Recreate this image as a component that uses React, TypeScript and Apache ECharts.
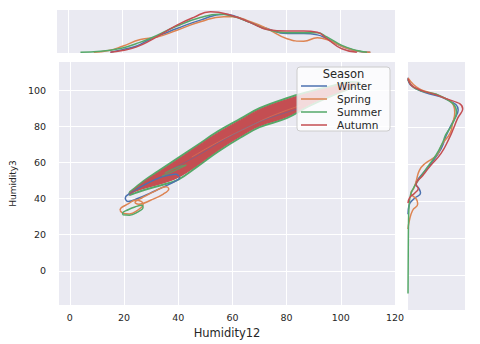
import React, { useEffect, useRef } from 'react';
import * as echarts from 'echarts';

const seasons = ['Winter', 'Spring', 'Summer', 'Autumn'];
const xTicks = [0, 20, 40, 60, 80, 100, 120];
const yTicks = [0, 20, 40, 60, 80, 100];

// Top marginal KDE of Humidity12: [Humidity12, density]
const winterTop = [[15.6, 0], [20, 0.06], [25, 0.14], [30, 0.3], [35, 0.43], [40, 0.56], [48.6, 0.76], [57.2, 0.9], [60.5, 0.87], [67, 0.7], [73, 0.56], [80.4, 0.44], [86.5, 0.44], [91.5, 0.41], [95, 0.32], [100.5, 0.14], [106, 0.03], [110.9, 0]];
const springTop = [[9.5, 0], [15, 0.04], [20, 0.14], [26.6, 0.3], [32.7, 0.36], [40, 0.52], [48.6, 0.72], [57.2, 0.84], [60.5, 0.84], [67, 0.72], [73, 0.56], [80.4, 0.32], [86.5, 0.26], [91.5, 0.34], [95, 0.3], [100.5, 0.14], [106, 0.03], [111, 0]];
const summerTop = [[4.6, 0], [12, 0.02], [20, 0.1], [25, 0.2], [30.3, 0.33], [40, 0.62], [48.6, 0.82], [55.5, 0.9], [60.5, 0.85], [67, 0.7], [73, 0.54], [80.4, 0.46], [86.5, 0.46], [91.5, 0.46], [95, 0.36], [100.5, 0.16], [106, 0.04], [109.7, 0]];
const autumnTop = [[15.6, 0], [20, 0.04], [25, 0.12], [30.3, 0.28], [40, 0.64], [46, 0.82], [52.3, 0.96], [60.5, 0.86], [67, 0.7], [73, 0.54], [80.4, 0.5], [86.5, 0.5], [91.5, 0.47], [95, 0.32], [100.5, 0.08], [106, 0]];

// Right marginal KDE of Humidity3: [density, Humidity3]
const winterRight = [[0, 107], [0.05, 103], [0.3, 99], [0.67, 95.5], [0.88, 89.5], [0.8, 84], [0.72, 79], [0.67, 75.7], [0.58, 68.5], [0.38, 59.5], [0.23, 54], [0.14, 49.5], [0.2, 46.5], [0.22, 44.5], [0.11, 41.5], [0.02, 38], [0, 33]];
const springRight = [[0, 107], [0.2, 101], [0.55, 97.3], [0.8, 92], [0.82, 88], [0.78, 82], [0.74, 77], [0.6, 71], [0.5, 65], [0.3, 60.5], [0.2, 56.8], [0.14, 50.5], [0.1, 47], [0.05, 44.5], [0.15, 41], [0.17, 38.5], [0.08, 35], [0.02, 29], [0, 25]];
const summerRight = [[0, 106], [0.14, 101], [0.61, 96.5], [0.85, 88.3], [0.76, 81], [0.66, 76], [0.61, 72], [0.49, 65], [0.32, 57.7], [0.2, 52.3], [0.09, 46.8], [0.03, 41.4], [0.01, 30], [0.005, 15], [0, -10]];
const autumnRight = [[0, 106.5], [0.11, 101.8], [0.61, 96.4], [0.96, 90.1], [0.87, 85], [0.8, 79.6], [0.72, 74], [0.58, 66], [0.4, 59.5], [0.26, 54], [0.14, 49], [0.18, 47], [0.12, 44.5], [0.03, 42], [0, 39]];

// Joint KDE contour loops: [Humidity12, Humidity3]
const summerOuter = [[22, 43.5], [25, 47], [28, 50.5], [32.5, 55], [40, 62.5], [47, 69.5], [54.5, 77], [63, 84.2], [70, 90], [80, 95.5], [88, 99], [96, 102], [104, 104.5], [107, 104], [104, 101.5], [96, 96.5], [88, 91], [80, 84.5], [70, 79.5], [63, 73.8], [54.5, 65.8], [47, 57.7], [40, 50.5], [34, 47.5], [28, 45], [24, 43], [22, 42], [22, 43.5]];
const autumnBand = [[22, 43], [25, 46.5], [28, 50], [32.5, 54.3], [40, 61.7], [47, 68.8], [54.5, 76.2], [63, 83.4], [70, 89.2], [80, 94.7], [88, 98.3], [96, 101.3], [104, 103.8], [106, 103.5], [103, 101], [96, 97.2], [88, 91.8], [80, 85.3], [70, 80.3], [63, 74.6], [54.5, 66.6], [47, 58.5], [40, 51.8], [34, 48.5], [28, 46], [24, 44], [22, 42.3]];
const winterLoop = [[20.5, 39.5], [21.5, 38.3], [25, 40], [30, 43.3], [35, 46.7], [39, 49.6], [40.5, 51.5], [39, 53.5], [34, 52], [28, 48], [23, 43.5], [20.5, 40.5], [20.5, 39.5]];
const springLoopHigh = [[24, 37.6], [25.5, 36.8], [30, 39.2], [34.5, 42.5], [36.5, 45.3], [35.5, 46.5], [31, 43.8], [26.5, 40.3], [24.3, 38.6], [24, 37.6]];
const springLoopLow = [[18.5, 33.5], [19.5, 32], [22, 31.5], [25, 33.5], [27, 36.5], [26.5, 38.3], [24, 39], [21.5, 37], [19, 35], [18.5, 33.5]];
const summerLoopSmall = [[19.5, 31], [22, 30.8], [25, 32.5], [27, 35], [26.5, 36.3], [24, 35.3], [21.5, 33.8], [19.5, 32], [19.5, 31]];
const springInner = [[45, 63], [55, 71.5], [65, 79], [75, 86], [85, 91.5]];
const winterInner = [[38, 56.5], [48, 64.5], [58, 73.5], [70, 82.5], [84, 89.5]];
const summerInner = [[34, 52.5], [38, 55], [43, 58.5], [40, 57.5], [35, 54]];

const colors: Record<string, string> = {
  Winter: '#4C72B0',
  Spring: '#DD8452',
  Summer: '#55A868',
  Autumn: '#C44E52',
};

const TEXT = '#262626';
const FONT = 'DejaVu Sans';

function lineSeries(name: string, data: number[][], axis: number, width = 1.5, opacity = 1, smooth: number | boolean = 0.4) {
  return {
    type: 'line',
    name,
    xAxisIndex: axis,
    yAxisIndex: axis,
    data,
    smooth,
    symbol: 'none',
    showSymbol: false,
    silent: true,
    lineStyle: { color: colors[name], width, opacity },
  };
}

export default function App() {
  const ref = useRef<HTMLDivElement>(null);

  useEffect(() => {
    if (!ref.current) return;
    const chart = echarts.init(ref.current, null, { renderer: 'svg' });

    const mainX = { min: -4, max: 120 };
    const mainY = { min: -19, max: 115.6 };
    const split = { show: true, lineStyle: { color: '#ffffff', width: 1 } };

    const option: any = {
      animation: false,
      backgroundColor: '#ffffff',
      textStyle: { fontFamily: FONT, color: TEXT },
      grid: [
        { left: 57, top: 62, width: 338, height: 248, show: true, backgroundColor: '#EAEAF2', borderWidth: 0 },
        { left: 57, top: 10, width: 338, height: 43, show: true, backgroundColor: '#EAEAF2', borderWidth: 0 },
        { left: 408, top: 62, width: 57, height: 248, show: true, backgroundColor: '#EAEAF2', borderWidth: 0 },
      ],
      xAxis: [
        {
          type: 'value', gridIndex: 0, ...mainX,
          name: 'Humidity12', nameLocation: 'middle', nameGap: 17,
          nameTextStyle: { fontFamily: FONT, fontSize: 11.5, color: TEXT },
          axisLine: { show: false },
          axisTick: { show: false, customValues: xTicks },
          axisLabel: { customValues: xTicks, fontFamily: FONT, fontSize: 9.5, color: TEXT, margin: 7 },
          splitLine: split,
        },
        {
          type: 'value', gridIndex: 1, ...mainX,
          axisLine: { show: false },
          axisTick: { show: false, customValues: xTicks },
          axisLabel: { show: false, customValues: xTicks },
          splitLine: split,
        },
        {
          type: 'value', gridIndex: 2, min: 0, max: 1,
          axisLine: { show: false }, axisTick: { show: false }, axisLabel: { show: false },
          splitLine: { show: false },
        },
      ],
      yAxis: [
        {
          type: 'value', gridIndex: 0, ...mainY,
          name: 'Humidity3', nameLocation: 'middle', nameGap: 39,
          nameTextStyle: { fontFamily: FONT, fontSize: 9, color: TEXT },
          axisLine: { show: false },
          axisTick: { show: false, customValues: yTicks },
          axisLabel: { customValues: yTicks, fontFamily: FONT, fontSize: 9.5, color: TEXT, margin: 13 },
          splitLine: split,
        },
        {
          type: 'value', gridIndex: 1, min: -0.02, max: 1,
          axisLine: { show: false }, axisTick: { show: false }, axisLabel: { show: false },
          splitLine: { show: false },
        },
        {
          type: 'value', gridIndex: 2, ...mainY,
          axisLine: { show: false },
          axisTick: { show: false, customValues: yTicks },
          axisLabel: { show: false, customValues: yTicks },
          splitLine: split,
        },
      ],
      series: [
        lineSeries('Summer', summerOuter, 0, 2),
        lineSeries('Winter', winterLoop, 0, 1.5),
        lineSeries('Spring', springLoopHigh, 0, 1.5),
        lineSeries('Spring', springLoopLow, 0, 1.5),
        lineSeries('Summer', summerLoopSmall, 0, 1.5),
        {
          type: 'custom',
          name: 'autumnFill',
          xAxisIndex: 0,
          yAxisIndex: 0,
          silent: true,
          data: autumnBand,
          renderItem: (params: any, api: any) => {
            if (params.dataIndex !== 0) return null;
            const pts = autumnBand.map((p) => api.coord(p));
            return {
              type: 'polygon',
              shape: { points: pts, smooth: 0.35 },
              style: { fill: colors.Autumn, stroke: colors.Autumn, lineWidth: 1 },
            };
          },
        },
        lineSeries('Spring', springInner, 0, 1, 0.55),
        lineSeries('Winter', winterInner, 0, 1, 0.5),
        lineSeries('Summer', summerInner, 0, 1.2, 0.8),
        lineSeries('Autumn', autumnBand, 0, 1, 1),
        // top marginal
        lineSeries('Winter', winterTop, 1, 1.5, 1, 0.5),
        lineSeries('Spring', springTop, 1, 1.5, 1, 0.5),
        lineSeries('Summer', summerTop, 1, 1.5, 1, 0.5),
        lineSeries('Autumn', autumnTop, 1, 1.5, 1, 0.5),
        // right marginal
        lineSeries('Winter', winterRight, 2, 1.5, 1, 0.5),
        lineSeries('Spring', springRight, 2, 1.5, 1, 0.5),
        lineSeries('Summer', summerRight, 2, 1.5, 1, 0.5),
        lineSeries('Autumn', autumnRight, 2, 1.5, 1, 0.5),
      ],
      graphic: [
        {
          type: 'rect', z: 100,
          shape: { x: 297, y: 67, width: 93, height: 64, r: 3 },
          style: { fill: 'rgba(255,255,255,0.8)', stroke: '#cccccc', lineWidth: 1 },
        },
        {
          type: 'text', z: 101, x: 343.5, y: 73.5,
          style: { text: 'Season', fontFamily: FONT, fontSize: 11.5, fill: TEXT, align: 'center', verticalAlign: 'middle', textAlign: 'center', textVerticalAlign: 'middle' },
        },
        ...seasons.flatMap((s, i) => [
          {
            type: 'line', z: 101,
            shape: { x1: 301, y1: 86 + i * 13, x2: 327, y2: 86 + i * 13 },
            style: { stroke: colors[s], lineWidth: 1.5 },
          },
          {
            type: 'text', z: 101, x: 337, y: 86 + i * 13,
            style: { text: s, fontFamily: FONT, fontSize: 10.5, fill: TEXT, align: 'left', verticalAlign: 'middle', textAlign: 'left', textVerticalAlign: 'middle' },
          },
        ]),
      ],
    };

    chart.setOption(option);
    return () => chart.dispose();
  }, []);

  return (
    <div
      ref={ref}
      style={{ position: 'fixed', left: 0, top: 0, width: 480, height: 344, background: '#ffffff' }}
    />
  );
}
